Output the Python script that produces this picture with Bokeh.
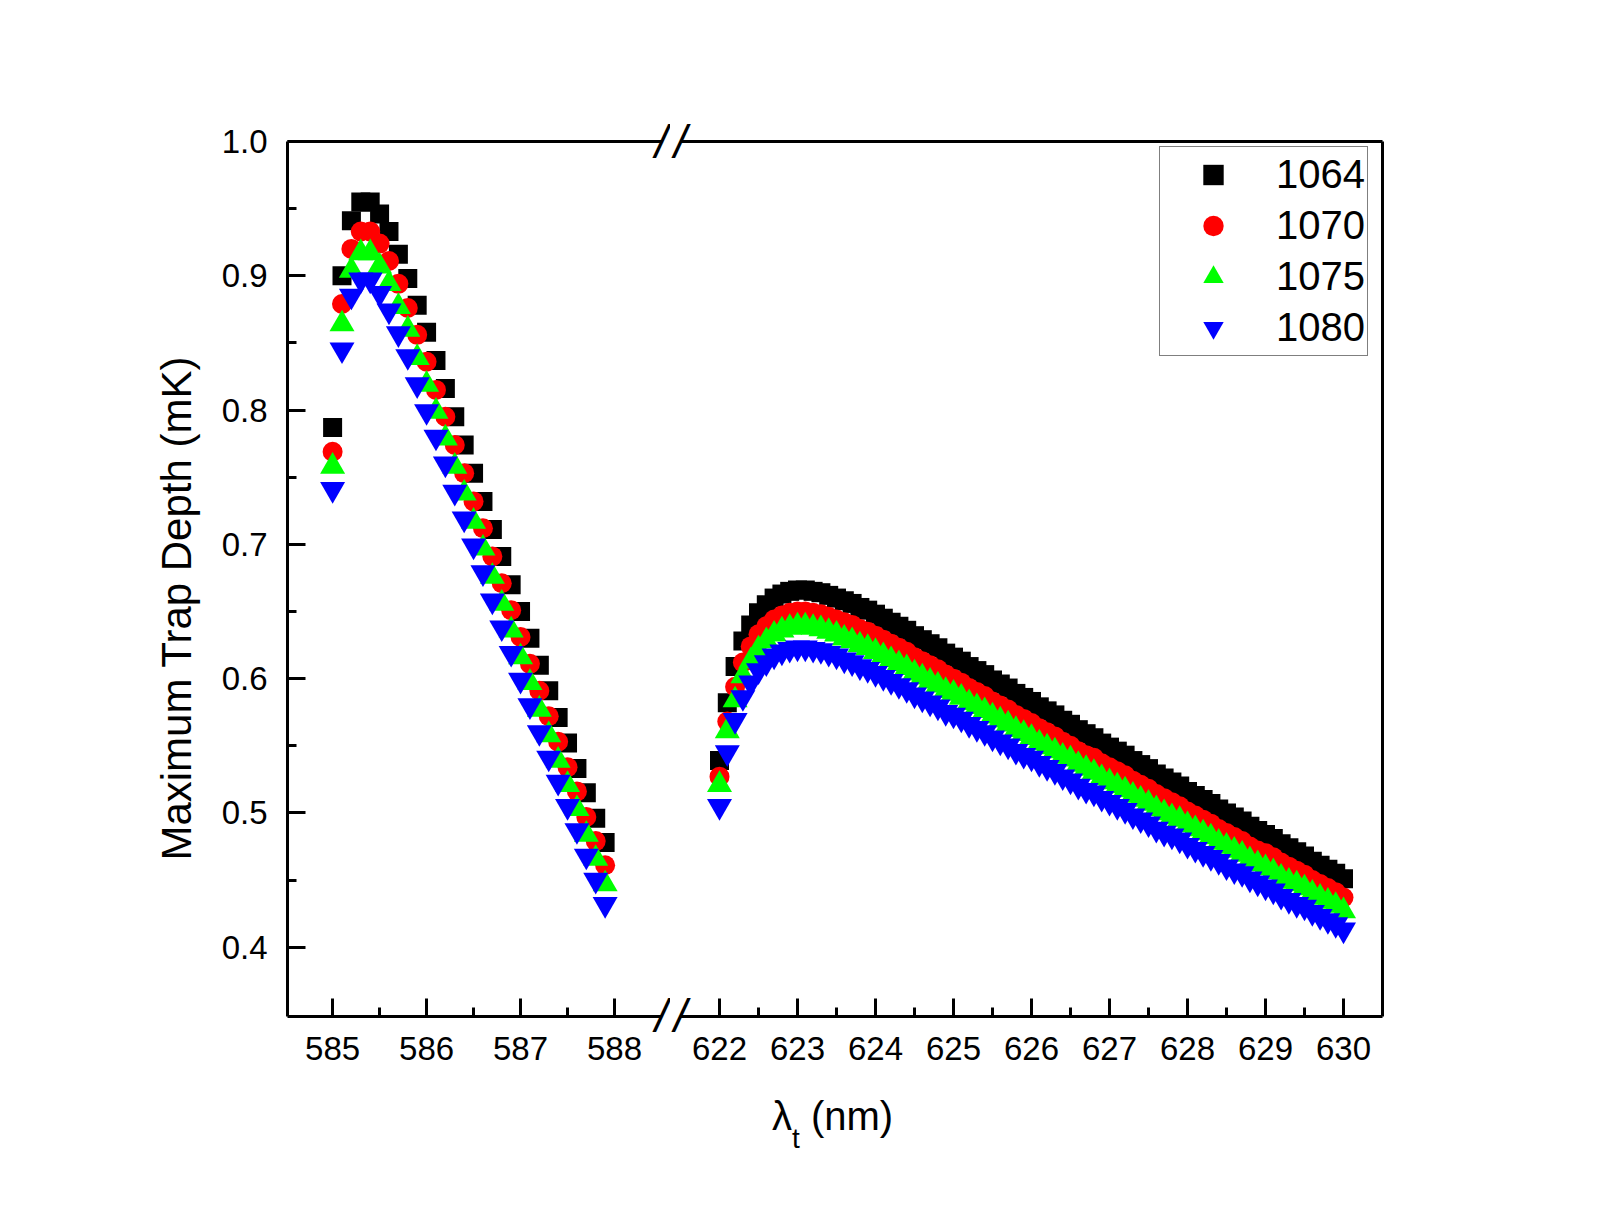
from bokeh.plotting import figure
from bokeh.layouts import row, column
from bokeh.models import FixedTicker, LinearAxis, PrintfTickFormatter, Range1d, Div
from bokeh.embed import file_html
from bokeh.resources import INLINE

FONT = "Liberation Sans"

# ---------------- data ----------------
left_x = [585.0, 585.1, 585.2, 585.3, 585.4, 585.5, 585.6, 585.7, 585.8, 585.9,
          586.0, 586.1, 586.2, 586.3, 586.4, 586.5, 586.6, 586.7, 586.8, 586.9,
          587.0, 587.1, 587.2, 587.3, 587.4, 587.5, 587.6, 587.7, 587.8, 587.9]
left_1064 = [0.787, 0.900, 0.941, 0.955, 0.955, 0.946, 0.933, 0.916, 0.898, 0.878,
             0.858, 0.837, 0.816, 0.795, 0.774, 0.753, 0.732, 0.711, 0.691, 0.670,
             0.650, 0.630, 0.610, 0.591, 0.571, 0.552, 0.533, 0.515, 0.496, 0.478]
left_1070 = [0.769, 0.879, 0.920, 0.933, 0.933, 0.924, 0.911, 0.894, 0.876, 0.856,
             0.836, 0.815, 0.795, 0.774, 0.753, 0.732, 0.712, 0.691, 0.671, 0.651,
             0.631, 0.611, 0.591, 0.572, 0.553, 0.534, 0.516, 0.497, 0.479, 0.461]
left_1075 = [0.758, 0.864, 0.904, 0.917, 0.917, 0.907, 0.894, 0.877, 0.860, 0.839,
             0.819, 0.799, 0.779, 0.758, 0.738, 0.717, 0.697, 0.676, 0.656, 0.636,
             0.616, 0.597, 0.577, 0.558, 0.539, 0.521, 0.503, 0.484, 0.466, 0.447]
left_1080 = [0.741, 0.845, 0.885, 0.897, 0.897, 0.887, 0.874, 0.857, 0.840, 0.819,
             0.799, 0.780, 0.760, 0.739, 0.719, 0.699, 0.679, 0.658, 0.638, 0.619,
             0.599, 0.580, 0.560, 0.541, 0.523, 0.505, 0.487, 0.468, 0.450, 0.432]

right_x = [round(622.0 + 0.1 * i, 1) for i in range(81)]
right_1064 = [0.539, 0.582, 0.609, 0.628, 0.640, 0.649, 0.655, 0.660, 0.663, 0.665,
              0.666, 0.666, 0.665, 0.664, 0.662, 0.660, 0.658, 0.656, 0.653, 0.651,
              0.648, 0.645, 0.642, 0.639, 0.636, 0.632, 0.629, 0.626, 0.623, 0.619,
              0.616, 0.613, 0.609, 0.606, 0.603, 0.599, 0.596, 0.593, 0.589, 0.586,
              0.583, 0.579, 0.576, 0.573, 0.569, 0.566, 0.562, 0.559, 0.556, 0.552,
              0.549, 0.546, 0.543, 0.539, 0.536, 0.533, 0.529, 0.526, 0.523, 0.520,
              0.516, 0.513, 0.510, 0.507, 0.503, 0.500, 0.497, 0.494, 0.490, 0.487,
              0.484, 0.481, 0.477, 0.474, 0.471, 0.468, 0.464, 0.461, 0.458, 0.455,
              0.451]
right_1070 = [0.527, 0.568, 0.594, 0.612, 0.624, 0.633, 0.639, 0.644, 0.647, 0.649,
              0.650, 0.650, 0.649, 0.648, 0.646, 0.644, 0.642, 0.640, 0.637, 0.635,
              0.632, 0.629, 0.626, 0.623, 0.620, 0.616, 0.613, 0.610, 0.607, 0.603,
              0.600, 0.597, 0.593, 0.590, 0.587, 0.583, 0.580, 0.577, 0.573, 0.570,
              0.567, 0.563, 0.560, 0.557, 0.553, 0.550, 0.546, 0.543, 0.541, 0.537,
              0.534, 0.531, 0.528, 0.524, 0.521, 0.518, 0.514, 0.511, 0.508, 0.505,
              0.501, 0.498, 0.495, 0.492, 0.488, 0.485, 0.482, 0.479, 0.475, 0.472,
              0.470, 0.467, 0.463, 0.460, 0.457, 0.454, 0.450, 0.447, 0.444, 0.441,
              0.437]
right_1075 = [0.521, 0.561, 0.584, 0.602, 0.613, 0.622, 0.628, 0.633, 0.636, 0.638,
              0.639, 0.639, 0.638, 0.637, 0.635, 0.633, 0.630, 0.628, 0.625, 0.623,
              0.620, 0.617, 0.614, 0.611, 0.608, 0.604, 0.601, 0.598, 0.595, 0.591,
              0.589, 0.586, 0.582, 0.579, 0.576, 0.572, 0.569, 0.566, 0.562, 0.559,
              0.556, 0.552, 0.549, 0.546, 0.542, 0.540, 0.536, 0.533, 0.530, 0.526,
              0.523, 0.520, 0.517, 0.513, 0.510, 0.507, 0.503, 0.500, 0.497, 0.495,
              0.491, 0.488, 0.485, 0.482, 0.478, 0.475, 0.472, 0.469, 0.465, 0.462,
              0.459, 0.456, 0.452, 0.449, 0.447, 0.444, 0.440, 0.437, 0.434, 0.431,
              0.427]
right_1080 = [0.505, 0.545, 0.569, 0.586, 0.597, 0.606, 0.612, 0.617, 0.620, 0.622,
              0.623, 0.623, 0.622, 0.621, 0.619, 0.617, 0.614, 0.612, 0.609, 0.607,
              0.604, 0.601, 0.598, 0.595, 0.592, 0.588, 0.585, 0.582, 0.579, 0.575,
              0.573, 0.570, 0.566, 0.563, 0.560, 0.556, 0.553, 0.550, 0.546, 0.543,
              0.541, 0.537, 0.534, 0.531, 0.527, 0.524, 0.520, 0.517, 0.515, 0.511,
              0.508, 0.505, 0.502, 0.498, 0.495, 0.492, 0.488, 0.485, 0.483, 0.480,
              0.476, 0.473, 0.470, 0.467, 0.464, 0.460, 0.457, 0.455, 0.451, 0.448,
              0.445, 0.442, 0.438, 0.435, 0.432, 0.430, 0.426, 0.423, 0.420, 0.417,
              0.413]

series_names = ["1064", "1070", "1075", "1080"]
series_colors = ["#000000", "#FF0000", "#00FF00", "#0000FF"]
series_markers = ["square", "circle", "triangle", "inverted_triangle"]
series_sizes = [19, 20, 25, 25]

y_major = [0.4, 0.5, 0.6, 0.7, 0.8, 0.9, 1.0]
y_minor = [0.45, 0.55, 0.65, 0.75, 0.85, 0.95]
left_major = [585, 586, 587, 588]
left_minor = [585.5, 586.5, 587.5]
right_major = [622, 623, 624, 625, 626, 627, 628, 629, 630]
right_minor = [622.5, 623.5, 624.5, 625.5, 626.5, 627.5, 628.5, 629.5]

y_title = "Maximum Trap Depth (mK)"
y_start, y_end = 0.3484, 1.0
left_start, left_end = 584.52, 588.5
right_start, right_end = 621.5, 630.5

# ---------------- helpers ----------------
def style_ticked_axis(ax, major, minor, fmt):
    ax.ticker = FixedTicker(ticks=major, minor_ticks=minor)
    ax.formatter = PrintfTickFormatter(format=fmt)
    ax.axis_line_width = 3
    ax.axis_line_color = "black"
    ax.major_tick_in = 18
    ax.major_tick_out = 0
    ax.minor_tick_in = 9
    ax.minor_tick_out = 0
    ax.major_tick_line_width = 3
    ax.minor_tick_line_width = 3
    ax.major_tick_line_color = "black"
    ax.minor_tick_line_color = "black"
    ax.major_label_text_font = FONT
    ax.major_label_text_font_size = "33px"
    ax.major_label_text_color = "black"


def plain_axis(break_at=None, line=True, standoff=0):
    """Axis drawn as a bare frame line; optionally carries the '/' break mark."""
    ticks = [] if break_at is None else [break_at]
    return LinearAxis(ticker=FixedTicker(ticks=ticks, minor_ticks=[]),
                      formatter=PrintfTickFormatter(format="/"),
                      axis_line_width=3,
                      axis_line_color="black" if line else None,
                      major_tick_line_color=None, minor_tick_line_color=None,
                      major_tick_in=0, major_tick_out=0,
                      minor_tick_in=0, minor_tick_out=0,
                      major_label_standoff=standoff,
                      major_label_text_font=FONT,
                      major_label_text_font_size="46px",
                      major_label_text_font_style="italic",
                      major_label_text_color="black")


common = dict(output_backend="svg", toolbar_location=None, frame_height=875,
              min_border_top=141, min_border_bottom=77,
              outline_line_color=None, background_fill_color="white",
              border_fill_color="white")

# ---------------- left segment ----------------
p1 = figure(x_range=Range1d(left_start, left_end), y_range=Range1d(y_start, y_end),
            frame_width=374, min_border_left=287, min_border_right=9, **common)
p1.grid.visible = False
style_ticked_axis(p1.xaxis[0], left_major, left_minor, "%d")
style_ticked_axis(p1.yaxis[0], y_major, y_minor, "%.1f")
p1.yaxis[0].major_label_standoff = 20
p1.xaxis[0].major_label_standoff = 20
# trailing no-break spaces nudge the centred title downwards, as in the original
p1.yaxis[0].axis_label = y_title + "\u00a0" * 5
p1.yaxis[0].axis_label_text_font = FONT
p1.yaxis[0].axis_label_text_font_size = "42px"
p1.yaxis[0].axis_label_text_font_style = "normal"
p1.yaxis[0].axis_label_text_color = "black"
p1.yaxis[0].axis_label_standoff = 19
p1.add_layout(plain_axis(break_at=left_end, standoff=-26), "above")
p1.add_layout(plain_axis(break_at=left_end, line=False, standoff=-73), "below")

for ys, c, m, s in zip([left_1064, left_1070, left_1075, left_1080],
                       series_colors, series_markers, series_sizes):
    p1.scatter(left_x, ys, marker=m, size=s, fill_color=c, line_color=None)

# ---------------- right segment ----------------
p2 = figure(x_range=Range1d(right_start, right_end), y_range=Range1d(y_start, y_end),
            frame_width=702, min_border_left=10, min_border_right=150,
            y_axis_location=None, **common)
p2.grid.visible = False
style_ticked_axis(p2.xaxis[0], right_major, right_minor, "%d")
p2.xaxis[0].major_label_standoff = 20
p2.add_layout(plain_axis(break_at=right_start, standoff=-26), "above")
p2.add_layout(plain_axis(break_at=right_start, line=False, standoff=-73), "below")
p2.add_layout(plain_axis(), "right")

for ys, name, c, m, s in zip([right_1064, right_1070, right_1075, right_1080],
                             series_names, series_colors, series_markers, series_sizes):
    p2.scatter(right_x, ys, marker=m, size=s, fill_color=c, line_color=None,
               legend_label=name)

lg = p2.legend[0]
lg.location = (479, 660)
lg.label_text_font = FONT
lg.label_text_font_size = "40px"
lg.label_text_color = "black"
lg.glyph_width = 102
lg.glyph_height = 51
lg.label_standoff = 12
lg.padding = 2
lg.spacing = 0
lg.margin = 0
lg.border_line_color = "black"
lg.border_line_width = 1
lg.background_fill_color = "white"
lg.background_fill_alpha = 1.0

# x-axis title (lambda with subscript t), centred under the whole broken axis
x_title = Div(
    text='<div style="margin-left:772px;white-space:nowrap;">&lambda;'
         '<span style="font-size:28px;position:relative;top:18px;">t</span>'
         ' (nm)</div>',
    width=1000, height=70, margin=(0, 0, 0, 0),
    styles={"font-family": FONT, "font-size": "40px", "line-height": "46px",
            "color": "black"})

layout = column(row(p1, p2), x_title)
open("out.html", "w").write(file_html(layout, INLINE))
